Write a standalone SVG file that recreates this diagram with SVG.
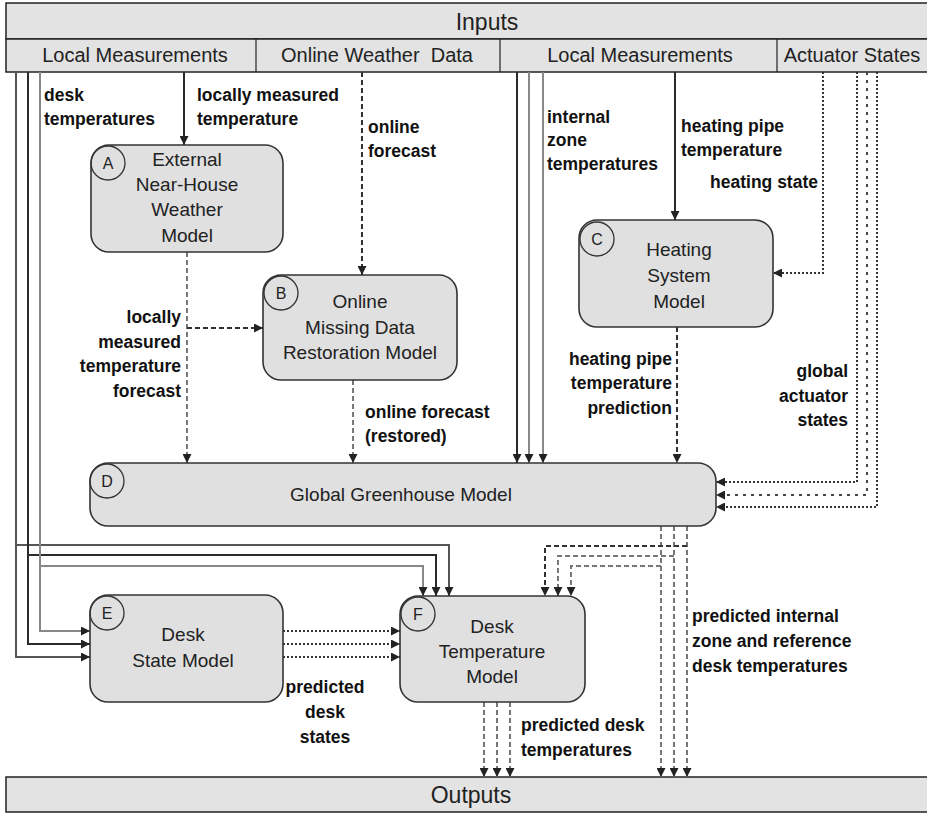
<svg xmlns="http://www.w3.org/2000/svg" width="927" height="816" viewBox="0 0 927 816">
<style>
.hdr{fill:#e3e3e3;stroke:#222;stroke-width:1.5}
.box{fill:#e0e0e0;stroke:#333;stroke-width:1.6}
.circ{fill:none;stroke:#333;stroke-width:1.3}
.ht{font-family:"Liberation Sans",Arial,sans-serif;font-size:20px;fill:#222;text-anchor:middle}
.big{font-size:23px}
.nt{font-family:"Liberation Sans",Arial,sans-serif;font-size:19px;fill:#222;text-anchor:middle}
.ct{font-family:"Liberation Sans",Arial,sans-serif;font-size:16px;fill:#222;text-anchor:middle}
.lb{font-family:"Liberation Sans",Arial,sans-serif;font-size:17.5px;font-weight:bold;fill:#111}
.e{text-anchor:end}
.m{text-anchor:middle}
.c path{fill:none;stroke-width:2}
.sd{stroke:#2a2a2a}
.sg{stroke:#888}
.sm{stroke:#555}
.da{stroke:#333;stroke-dasharray:5,3}
.dg{stroke:#777;stroke-dasharray:5,3}
.dt{stroke:#333;stroke-dasharray:2,2}
.dd{stroke:#444;stroke-dasharray:3,5}
</style>
<defs>
<marker id="ar" viewBox="0 0 10 10" refX="10" refY="5" markerWidth="10" markerHeight="9" markerUnits="userSpaceOnUse" orient="auto">
<path d="M0,0 L10,5 L0,10 z" fill="#222"/>
</marker>
</defs>

<g id="inputs">
<rect class="hdr" x="6" y="3" width="940" height="36"/>
<rect class="hdr" x="6" y="39" width="940" height="33"/>
<line x1="256" y1="39" x2="256" y2="72" stroke="#222" stroke-width="1.2"/>
<line x1="500" y1="39" x2="500" y2="72" stroke="#222" stroke-width="1.2"/>
<line x1="777" y1="39" x2="777" y2="72" stroke="#222" stroke-width="1.2"/>
<text class="ht big" x="487" y="30">Inputs</text>
<text class="ht" x="135" y="62">Local Measurements</text>
<text class="ht" x="377" y="62" xml:space="preserve">Online Weather  Data</text>
<text class="ht" x="640" y="62">Local Measurements</text>
<text class="ht" x="852" y="62">Actuator States</text>
</g>

<g id="outputs">
<rect class="hdr" x="6" y="777" width="940" height="35"/>
<text class="ht big" x="471" y="803">Outputs</text>
</g>

<g id="connectors" class="c">
<path class="sd" d="M184,72 V145" marker-end="url(#ar)"/>
<path class="sd" d="M675,72 V220" marker-end="url(#ar)"/>
<path class="sd" d="M517,72 V463" marker-end="url(#ar)"/>
<path class="sg" d="M529,72 V463" marker-end="url(#ar)"/>
<path class="sg" d="M543,72 V463" marker-end="url(#ar)"/>
<path class="sm" d="M16,72 V657 H90" marker-end="url(#ar)"/>
<path class="sm" d="M16,545 H449 V596" marker-end="url(#ar)"/>
<path class="sd" d="M28,72 V644 H90" marker-end="url(#ar)"/>
<path class="sd" d="M28,555 H436 V596" marker-end="url(#ar)"/>
<path class="sg" d="M40,72 V631 H90" marker-end="url(#ar)"/>
<path class="sg" d="M40,566 H423 V596" marker-end="url(#ar)"/>

<path class="da" d="M362,72 V275" marker-end="url(#ar)"/>
<path class="dg" d="M187,252 V463" marker-end="url(#ar)"/>
<path class="da" d="M187,328 H263" marker-end="url(#ar)"/>
<path class="dg" d="M353,380 V463" marker-end="url(#ar)"/>
<path class="da" d="M677,327 V463" marker-end="url(#ar)"/>

<path class="dg" d="M661,526 V777" marker-end="url(#ar)"/>
<path class="dg" d="M661,566 H571 V596" marker-end="url(#ar)"/>
<path class="dg" d="M674,526 V777" marker-end="url(#ar)"/>
<path class="dg" d="M674,556 H558 V596" marker-end="url(#ar)"/>
<path class="dg" d="M687,526 V777" marker-end="url(#ar)"/>
<path class="da" d="M687,546 H545 V596" marker-end="url(#ar)"/>

<path class="dg" d="M484,702 V777" marker-end="url(#ar)"/>
<path class="dg" d="M497,702 V777" marker-end="url(#ar)"/>
<path class="dg" d="M510,702 V777" marker-end="url(#ar)"/>

<path class="dt" d="M823,72 V273 H773" marker-end="url(#ar)"/>
<path class="dt" d="M857,72 V482 H716" marker-end="url(#ar)"/>
<path class="dd" d="M867,72 V495 H716" marker-end="url(#ar)"/>
<path class="dt" d="M877,72 V507 H716" marker-end="url(#ar)"/>

<path class="dt" d="M283,631 H400" marker-end="url(#ar)"/>
<path class="dt" d="M283,644 H400" marker-end="url(#ar)"/>
<path class="dt" d="M283,657 H400" marker-end="url(#ar)"/>
</g>

<g id="nodeA">
<rect class="box" x="91" y="145" width="192" height="107" rx="18"/>
<circle class="circ" cx="108" cy="163" r="17"/>
<text class="ct" x="108" y="169">A</text>
<text class="nt" x="187" y="166">External</text>
<text class="nt" x="187" y="191">Near-House</text>
<text class="nt" x="187" y="216">Weather</text>
<text class="nt" x="187" y="242">Model</text>
</g>

<g id="nodeB">
<rect class="box" x="263" y="275" width="194" height="105" rx="18"/>
<circle class="circ" cx="281" cy="293" r="17"/>
<text class="ct" x="281" y="299">B</text>
<text class="nt" x="360" y="308">Online</text>
<text class="nt" x="360" y="334">Missing Data</text>
<text class="nt" x="360" y="359">Restoration Model</text>
</g>

<g id="nodeC">
<rect class="box" x="579" y="220" width="194" height="107" rx="18"/>
<circle class="circ" cx="597" cy="239" r="17"/>
<text class="ct" x="597" y="245">C</text>
<text class="nt" x="679" y="256">Heating</text>
<text class="nt" x="679" y="282">System</text>
<text class="nt" x="679" y="308">Model</text>
</g>

<g id="nodeD">
<rect class="box" x="90" y="463" width="626" height="63" rx="18"/>
<circle class="circ" cx="107" cy="481" r="17"/>
<text class="ct" x="107" y="487">D</text>
<text class="nt" x="401" y="501">Global Greenhouse Model</text>
</g>

<g id="nodeE">
<rect class="box" x="90" y="595" width="193" height="107" rx="18"/>
<circle class="circ" cx="107" cy="613" r="17"/>
<text class="ct" x="107" y="619">E</text>
<text class="nt" x="183" y="641">Desk</text>
<text class="nt" x="183" y="667">State Model</text>
</g>

<g id="nodeF">
<rect class="box" x="400" y="596" width="185" height="106" rx="18"/>
<circle class="circ" cx="418" cy="614" r="17"/>
<text class="ct" x="418" y="620">F</text>
<text class="nt" x="492" y="633">Desk</text>
<text class="nt" x="492" y="658">Temperature</text>
<text class="nt" x="492" y="683">Model</text>
</g>

<g id="labels">
<text class="lb" x="44" y="101">desk</text>
<text class="lb" x="44" y="125">temperatures</text>
<text class="lb" x="197" y="101">locally measured</text>
<text class="lb" x="197" y="125">temperature</text>
<text class="lb" x="368" y="133">online</text>
<text class="lb" x="368" y="157">forecast</text>
<text class="lb" x="547" y="123">internal</text>
<text class="lb" x="547" y="146">zone</text>
<text class="lb" x="547" y="170">temperatures</text>
<text class="lb" x="681" y="132">heating pipe</text>
<text class="lb" x="681" y="156">temperature</text>
<text class="lb e" x="818" y="188">heating state</text>
<text class="lb e" x="181" y="323">locally</text>
<text class="lb e" x="181" y="348">measured</text>
<text class="lb e" x="181" y="372">temperature</text>
<text class="lb e" x="181" y="397">forecast</text>
<text class="lb" x="365" y="418">online forecast</text>
<text class="lb" x="365" y="442">(restored)</text>
<text class="lb e" x="672" y="365">heating pipe</text>
<text class="lb e" x="672" y="389">temperature</text>
<text class="lb e" x="672" y="414">prediction</text>
<text class="lb e" x="848" y="377">global</text>
<text class="lb e" x="848" y="402">actuator</text>
<text class="lb e" x="848" y="426">states</text>
<text class="lb m" x="325" y="693">predicted</text>
<text class="lb m" x="325" y="718">desk</text>
<text class="lb m" x="325" y="743">states</text>
<text class="lb" x="521" y="731">predicted desk</text>
<text class="lb" x="521" y="756">temperatures</text>
<text class="lb" x="692" y="622">predicted internal</text>
<text class="lb" x="692" y="647">zone and reference</text>
<text class="lb" x="692" y="672">desk temperatures</text>
</g>
</svg>
